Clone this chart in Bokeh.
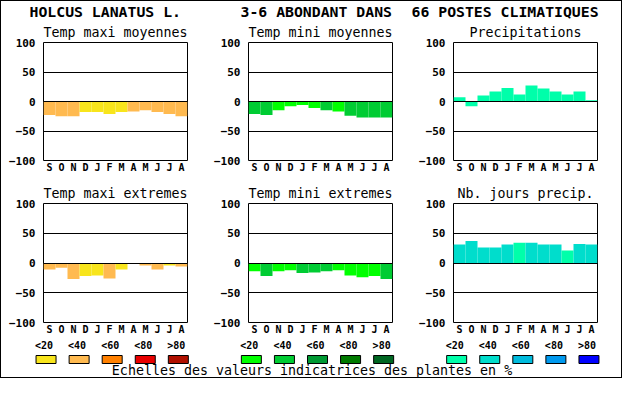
from bokeh.plotting import figure
from bokeh.layouts import column, row
from bokeh.models import Range1d, FixedTicker, FactorRange, ColumnDataSource
from bokeh.core.properties import value
from bokeh.embed import file_html
from bokeh.resources import INLINE

# ---------------- data ----------------
HEADER_PARTS = ["HOLCUS LANATUS L.", "3-6 ABONDANT DANS", "66 POSTES CLIMATIQUES"]
FOOTER = "Echelles des valeurs indicatrices des plantes en %"
MONTHS = ["S", "O", "N", "D", "J", "F", "M", "A", "M", "J", "J", "A"]
Y_TICKS = [-100, -50, 0, 50, 100]
CLASS_LABELS = ["<20", "<40", "<60", "<80", ">80"]
GROUPS = ["Temp maxi", "Temp mini", "Precip"]

TITLES_TOP = ["Temp maxi moyennes", "Temp mini moyennes", "Precipitations"]
TITLES_BOTTOM = ["Temp maxi extremes", "Temp mini extremes", "Nb. jours precip."]

tmax_moy = [-23, -25, -25, -18, -18, -21, -18, -17, -15, -18, -21, -25]
tmax_moy_cls = [1, 1, 1, 0, 0, 0, 0, 1, 1, 1, 1, 1]
tmin_moy = [-21, -23, -15, -8, -6, -11, -15, -17, -24, -27, -27, -27]
tmin_moy_cls = [1, 1, 0, 0, 0, 0, 1, 0, 1, 1, 1, 1]
precip = [7, -8, 10, 17, 23, 12, 27, 22, 17, 12, 17, 2]
precip_cls = [0, 0, 0, 0, 0, 0, 0, 0, 0, 0, 0, 0]
tmax_ext = [-11, -8, -27, -22, -21, -26, -11, 0, -4, -11, -4, -6]
tmax_ext_cls = [1, 1, 1, 0, 0, 1, 0, 1, 1, 1, 0, 1]
tmin_ext = [-14, -22, -14, -12, -17, -16, -14, -12, -21, -24, -22, -27]
tmin_ext_cls = [0, 1, 0, 0, 1, 1, 1, 0, 0, 0, 0, 1]
jours = [31, 37, 26, 26, 31, 34, 34, 31, 31, 21, 32, 31]
jours_cls = [1, 1, 1, 1, 1, 0, 1, 1, 1, 0, 1, 1]

PAL_MAX = ["#F8E51C", "#FFBA50", "#FF8000", "#E80000", "#B01000"]
PAL_MIN = ["#00FF00", "#00CC33", "#009933", "#007A00", "#006622"]
PAL_PRE = ["#00FFAA", "#00DDCC", "#00BBDD", "#0099EE", "#0000FF"]

MONO = "DejaVu Sans Mono"
TOTAL_W = 622
WIDE_LB, WIDE_RB = 29, 17          # frame borders shared by the full-width strips

# column geometry: (figure width, left border, right border)
COLS = [(210, 43, 23), (205, 38, 23), (207, 38, 25)]


def style_blank(p):
    p.border_fill_color = None
    p.background_fill_color = None
    p.outline_line_color = None
    p.grid.visible = False


def panel(title, vals, cls, pal, col, height, top_border, bottom_border):
    width, lb, rb = col
    p = figure(width=width, height=height,
               x_range=Range1d(0, 12), y_range=Range1d(-100, 100),
               output_backend="svg", toolbar_location=None,
               min_border_left=lb, min_border_right=rb,
               min_border_top=top_border, min_border_bottom=bottom_border,
               title=title)
    p.border_fill_color = None
    p.background_fill_color = "white"
    p.outline_line_color = "black"
    p.outline_line_width = 1
    p.outline_line_alpha = 1

    src = ColumnDataSource(dict(
        x=[i + 0.5 for i in range(len(MONTHS))],
        top=vals,
        color=[pal[c] for c in cls],
    ))
    p.vbar(x="x", top="top", bottom=0, width=1, fill_color="color",
           line_color=None, source=src)

    p.title.align = "center"
    p.title.text_font = MONO
    p.title.text_font_size = "13.3px"
    p.title.text_font_style = "normal"
    p.title.text_color = "black"
    p.title.standoff = 5

    p.xgrid.visible = False
    p.ygrid.ticker = FixedTicker(ticks=[-50, 0, 50])
    p.ygrid.grid_line_color = "black"
    p.ygrid.grid_line_alpha = 1
    p.ygrid.grid_line_width = 1
    p.ygrid.level = "overlay"

    p.yaxis.ticker = FixedTicker(ticks=Y_TICKS)
    p.xaxis.ticker = FixedTicker(ticks=[i + 0.5 for i in range(len(MONTHS))])
    p.xaxis.major_label_overrides = {i + 0.5: m for i, m in enumerate(MONTHS)}
    for ax in (p.xaxis, p.yaxis):
        ax.axis_line_color = None
        ax.major_tick_line_color = None
        ax.minor_tick_line_color = None
        ax.major_tick_out = 0
        ax.major_tick_in = 0
        ax.major_label_text_font = MONO
        ax.major_label_text_font_style = "bold"
        ax.major_label_text_color = "black"
    p.yaxis.major_label_text_font_size = "11px"
    p.yaxis.major_label_standoff = 8
    p.xaxis.major_label_text_font_size = "10px"
    p.xaxis.major_label_standoff = 1
    return p


# ---------------- header ----------------
HEADER_H = 20
header = figure(width=TOTAL_W, height=HEADER_H, title=None,
                x_range=Range1d(WIDE_LB, TOTAL_W - WIDE_RB), y_range=Range1d(HEADER_H, 0),
                x_axis_location=None, y_axis_location=None,
                output_backend="svg", toolbar_location=None,
                min_border=0, min_border_left=WIDE_LB, min_border_right=WIDE_RB)
style_blank(header)
header.text(x=[29, 240, 411], y=[11.2, 11.2, 11.2], text=HEADER_PARTS,
            text_align="left", text_baseline="alphabetic",
            text_font=value(MONO), text_font_style="bold",
            text_font_size="14.8px", text_color="black")

# ---------------- panels ----------------
top_data = [(tmax_moy, tmax_moy_cls, PAL_MAX), (tmin_moy, tmin_moy_cls, PAL_MIN),
            (precip, precip_cls, PAL_PRE)]
bot_data = [(tmax_ext, tmax_ext_cls, PAL_MAX), (tmin_ext, tmin_ext_cls, PAL_MIN),
            (jours, jours_cls, PAL_PRE)]

row1 = row(*[panel(TITLES_TOP[i], *top_data[i], COLS[i], 155, 21, 14) for i in range(3)])
row2 = row(*[panel(TITLES_BOTTOM[i], *bot_data[i], COLS[i], 162, 28, 14) for i in range(3)])

# ---------------- colour scale legend + footer ----------------
LEG_H = 41
factors = [(g, c) for g in GROUPS for c in CLASS_LABELS]
leg = figure(width=TOTAL_W, height=LEG_H, title=None,
             x_range=FactorRange(factors=factors, factor_padding=0,
                                 group_padding=1.208, range_padding=0),
             y_range=Range1d(LEG_H, 0),
             x_axis_location=None, y_axis_location=None,
             output_backend="svg", toolbar_location=None,
             min_border=0, min_border_left=WIDE_LB, min_border_right=WIDE_RB)
style_blank(leg)
leg_src = ColumnDataSource(dict(x=factors, label=CLASS_LABELS * 3,
                                color=PAL_MAX + PAL_MIN + PAL_PRE))
leg.rect(x="x", y=22, width=20, height=8, width_units="screen", height_units="screen",
         fill_color="color", line_color="black", line_width=1, source=leg_src)
leg.text(x="x", y=7.5, text="label", text_align="center", text_baseline="alphabetic",
         x_offset=-2, text_font=value(MONO), text_font_style="bold",
         text_font_size="10px", text_color="black", source=leg_src)
leg.text(x=[(GROUPS[1], CLASS_LABELS[2])], y=[33], text=[FOOTER],
         text_align="center", text_baseline="alphabetic", x_offset=-5.5,
         text_font=value(MONO), text_font_size="13.3px", text_color="black")

layout = column(header, row1, row2, leg,
                styles={"outline": "1px solid black", "outline-offset": "-1px",
                        "background-color": "white"})

open("out.html", "w").write(file_html(layout, INLINE))
